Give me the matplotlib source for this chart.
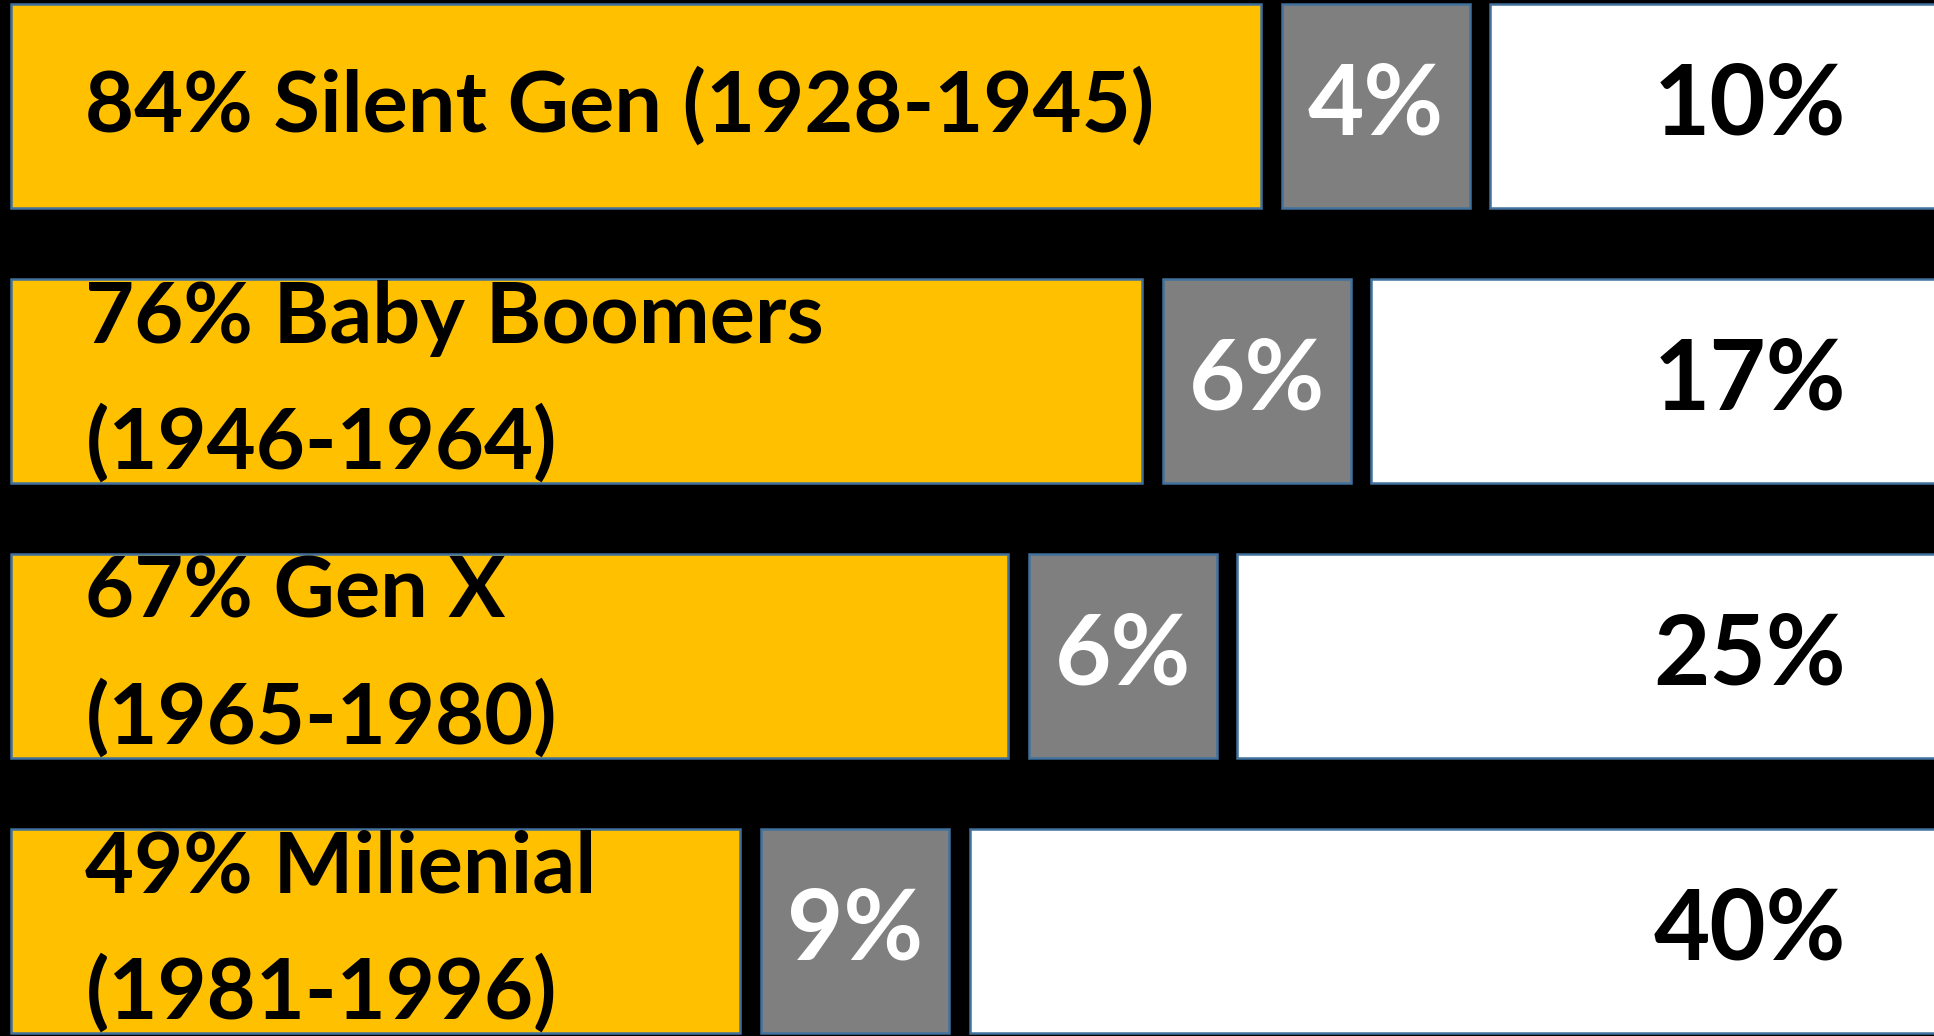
import matplotlib.pyplot as plt

# generation shares
generations = ["Silent Gen (1928-1945)", "Baby Boomers\n(1946-1964)",
               "Gen X\n(1965-1980)", "Milienial\n(1981-1996)"]
yes_pct = [84, 76, 67, 49]
mid_pct = [4, 6, 6, 9]
no_pct = [10, 17, 25, 40]

gold = '#FFC000'
grey = '#7F7F7F'
edge = '#41719C'
font = ['Lato', 'DejaVu Sans']

fig = plt.figure(figsize=(19.34, 10.36), dpi=100, facecolor='black')
ax = fig.add_axes([0, 0, 1, 1])
ax.set_facecolor('black')

x_left, x_right = -0.74, 129.2
ax.set_xlim(x_left, x_right)
ax.set_ylim(3.382, -0.386)

rows = list(range(len(generations)))
bar_h = 0.742
gap = 1.4        # black gap between boxes
box_w = 12.6     # grey badge width

# yes bars
ax.barh(rows, yes_pct, height=bar_h, color=gold, edgecolor=edge, linewidth=1.8)

# grey "unsure" badges sit right after each gold bar
grey_left = [v + gap for v in yes_pct]
ax.barh(rows, [box_w] * len(rows), left=grey_left, height=bar_h,
        color=grey, edgecolor=edge, linewidth=1.8)

# white "no" boxes run off the right edge
white_left = [g + box_w + gap for g in grey_left]
ax.barh(rows, [x_right + 5 - w for w in white_left], left=white_left, height=bar_h,
        color='white', edgecolor=edge, linewidth=1.8)

for i in rows:
    ax.text(5, i, f"{yes_pct[i]}% {generations[i]}", ha='left', va='center',
            fontsize=61, fontweight='bold', family=font, color='black',
            linespacing=1.7)
    ax.text(grey_left[i] + box_w / 2, i, f"{mid_pct[i]}%", ha='center', va='center',
            fontsize=70, fontweight='bold', family=font, color='white')
    ax.text(116.8, i, f"{no_pct[i]}%", ha='center', va='center',
            fontsize=70, fontweight='bold', family=font, color='black')

ax.axis('off')
fig.savefig('out.png', dpi=100, facecolor='black')
